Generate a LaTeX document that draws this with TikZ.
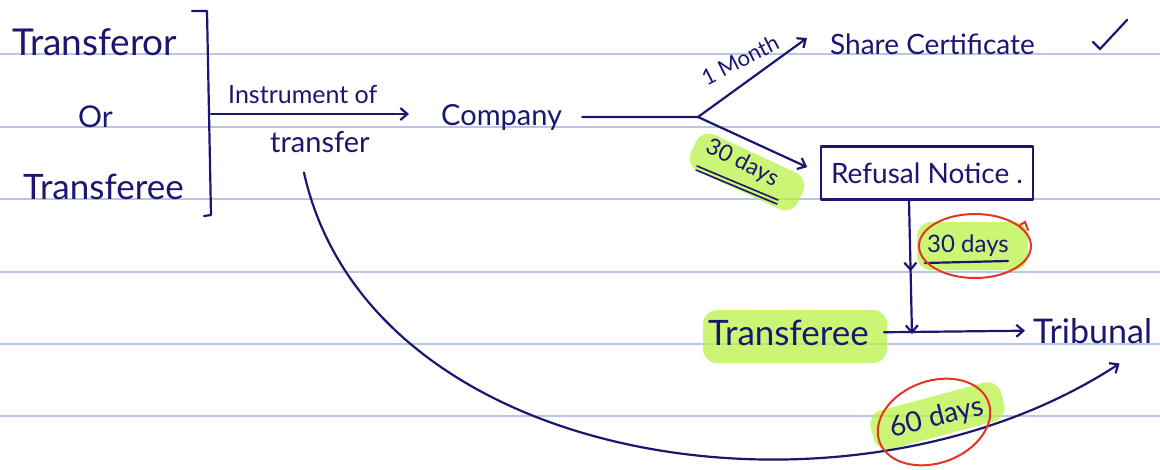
\documentclass[tikz,border=0pt]{standalone}
\usepackage{fontspec}
\setmainfont{Lato}
\usetikzlibrary{arrows.meta,decorations.markings,calc}
\definecolor{ink}{RGB}{28,22,112}
\definecolor{rule}{RGB}{183,198,227}
\definecolor{marker}{RGB}{186,243,72}
\definecolor{redpen}{RGB}{228,52,36}
\newcommand{\fs}[1]{\fontsize{#1}{#1}\selectfont}
\begin{document}
\begin{tikzpicture}[x=1pt,y=-1pt,
  pen/.style={draw=ink,line width=2.2pt,line cap=round,line join=round},
  tip/.style={-{Straight Barb[length=7pt,width=12pt]}},
  arr/.style={pen,tip},
  txt/.style={text=ink,inner sep=0pt,anchor=base west},
  lbl/.style={text=ink,inner sep=0pt},
  hl/.style={fill=marker,fill opacity=0.75,rounded corners=14pt},
  circ/.style={draw=redpen,line width=2pt},
  midtip/.style={postaction={decorate},decoration={markings,
      mark=at position #1 with {\arrow[line width=2.2pt]{Straight Barb[length=7pt,width=12pt]}}}},
]
\useasboundingbox (0,0) rectangle (1160,469);
\fill[white] (0,0) rectangle (1160,469);

% ruled paper
\foreach \yy in {54,127,199,272,344,416}
  \draw[rule,line width=1.3pt] (0,\yy) -- (1160,\yy);

% highlighter marks
\fill[hl,rotate around={-25:(747,172)}] (688,152) rectangle (806,192);
\fill[hl] (917,222) rectangle (1028,270);
\fill[hl] (703,310) rectangle (887,363);
\fill[hl,rotate around={15:(937,416)}] (870,396) rectangle (1005,436);

% parties
\node[txt,font=\fs{37}] (tor) at (12,55) {Transferor};
\node[txt,font=\fs{30}] (or) at (78,127) {Or};
\node[txt,font=\fs{35}] (tee) at (23,199) {Transferee};
\draw[pen] (192,11) -- (207,11) -- (211,215) -- (204,216);
\coordinate (brk) at (211,114);

% instrument of transfer to the company
\node[txt,font=\fs{25}] (instr) at (228,103) {Instrument of};
\node[txt,font=\fs{29}] (trf) at (270,152) {transfer};
\node[txt,font=\fs{29}] (company) at (441,125) {Company};
\draw[arr,shorten >=32pt] (brk) -- (company.west |- brk);

% company decides
\coordinate (branch) at (698,117);
\draw[pen,shorten <=20pt] (company.east) -- (branch);
\node[txt,font=\fs{28}] (share) at (830,54) {Share Certificate};
\coordinate (shareIn) at (807,38);
\draw[arr] (branch) -- (shareIn);
\node[lbl,font=\fs{22},rotate=27] (month) at (740,60) {1 Month};
\draw[pen] (1093,42) -- (1100,49) -- (1127,20);

\node[pen,lbl,font=\fs{28},minimum width=212pt,minimum height=53pt] (refusal) at (927,173) {Refusal Notice .};
\draw[arr,shorten >=14pt] (branch) -- (refusal.west);
\node[lbl,font=\fs{23},rotate=-27] (d30a) at (742,163) {30 days};
\draw[pen,line width=1.6pt] (697,166) -- (778,200);
\draw[pen,line width=1.6pt] (696,170) -- (777,204);

% appeal route
\node[txt,font=\fs{35}] (tee2) at (708,345) {Transferee};
\node[txt,font=\fs{34}] (tribunal) at (1033,343) {Tribunal};
\coordinate (meet) at (912,334);
\draw[arr,midtip=0.53] ([xshift=-18pt]refusal.south) -- (meet);
\draw[arr,shorten <=15pt,shorten >=8pt] (tee2.east) -- (tribunal.west);

\node[txt,font=\fs{24}] (d30b) at (927,252) {30 days};
\draw[pen] (925,263) -- (1008,261);
\draw[circ] (975,246) ellipse [x radius=56,y radius=32];
\draw[circ,line cap=round] (1020,225) -- (1025,222) -- (1028,230);

% direct route after sixty days
\coordinate (cstart) at ($(trf.south)+(-16,20)$);
\coordinate (cend) at ($(tribunal.south)+(27,20)$);
\draw[arr] (cstart) .. controls (370,470) and (850,540) .. (cend);
\node[lbl,font=\fs{28},rotate=14] (d60) at (937,418) {60 days};
\draw[circ,rotate around={20:(934,422)}] (934,422) ellipse [x radius=58,y radius=41];
\end{tikzpicture}
\end{document}
